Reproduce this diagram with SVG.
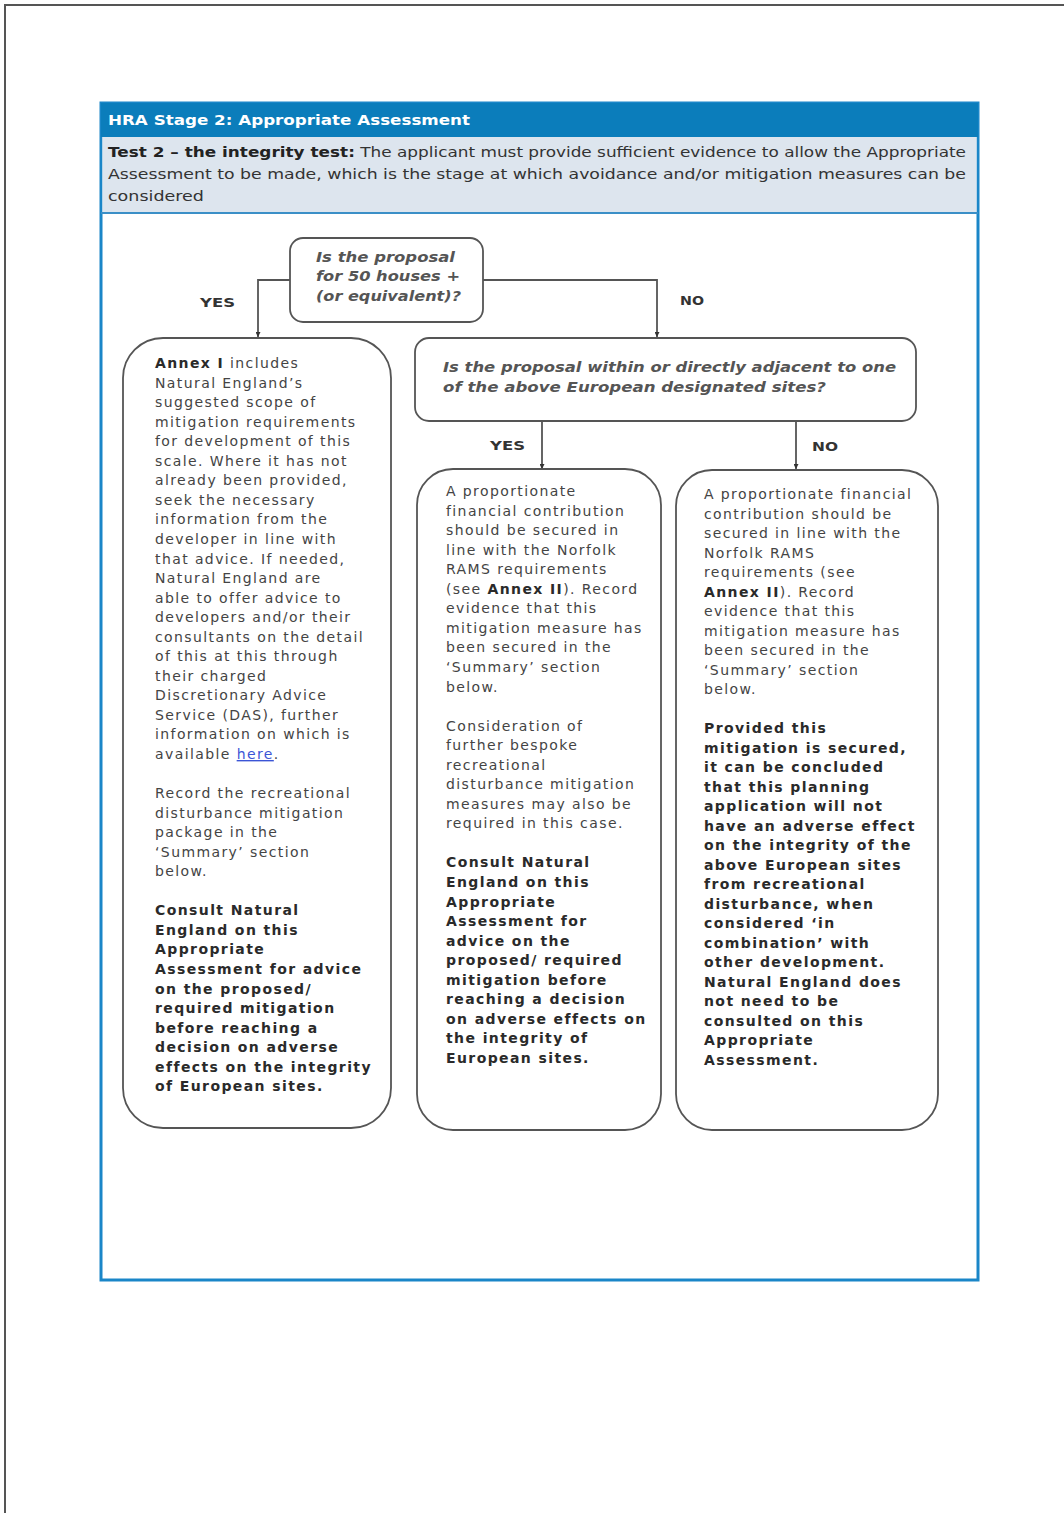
<svg xmlns="http://www.w3.org/2000/svg" width="1064" height="1513" viewBox="0 0 1064 1513">
<style>
.box{fill:#fff;stroke:#555;stroke-width:1.8}
.body{font-family:"DejaVu Sans",Verdana,sans-serif;font-size:14px;letter-spacing:1.4px;fill:#444}
.b{font-weight:bold;fill:#2a2a2a}
.q{font-family:"DejaVu Sans",Verdana,sans-serif;font-size:14px;font-style:italic;font-weight:bold;fill:#555}
.lbl{font-family:"DejaVu Sans",Verdana,sans-serif;font-size:13px;font-weight:bold;fill:#333}
.conn{fill:none;stroke:#555;stroke-width:1.8}
</style>
<defs>
<marker id="arr" viewBox="0 0 10 10" refX="10" refY="5" markerWidth="5" markerHeight="5" orient="auto" markerUnits="userSpaceOnUse">
<path d="M0,0 L10,5 L0,10 z" fill="#333"/>
</marker>
</defs>
<rect width="1064" height="1513" fill="#fff"/>
<g id="page-border">
<line x1="4" y1="5" x2="1064" y2="5" stroke="#555" stroke-width="2"/>
<line x1="5" y1="4" x2="5" y2="1513" stroke="#555" stroke-width="2"/>
</g>
<g id="frame">
<rect x="101" y="103" width="877" height="1177" fill="#fff" stroke="#1a86c8" stroke-width="3"/>
<rect x="101" y="103" width="877" height="34" fill="#0b7dbb"/>
<rect x="102.5" y="137" width="874" height="75" fill="#dde5ee"/>
<line x1="101" y1="213" x2="978" y2="213" stroke="#3b8fc7" stroke-width="2"/>
<text x="108" y="125" textLength="362" lengthAdjust="spacingAndGlyphs" font-family="DejaVu Sans,Verdana,sans-serif" font-size="14" font-weight="bold" fill="#fff">HRA Stage 2: Appropriate Assessment</text>
<text font-family="DejaVu Sans,Verdana,sans-serif" font-size="14" fill="#333">
<tspan x="108" y="157" textLength="858" lengthAdjust="spacingAndGlyphs"><tspan font-weight="bold" fill="#222">Test 2 – the integrity test:</tspan> The applicant must provide sufficient evidence to allow the Appropriate</tspan>
</text>
<text x="108" y="179" textLength="858" lengthAdjust="spacingAndGlyphs" font-family="DejaVu Sans,Verdana,sans-serif" font-size="14" fill="#333">Assessment to be made, which is the stage at which avoidance and/or mitigation measures can be</text>
<text x="108" y="201" textLength="96" lengthAdjust="spacingAndGlyphs" font-family="DejaVu Sans,Verdana,sans-serif" font-size="14" fill="#333">considered</text>
</g>
<g id="connectors">
<path class="conn" d="M290,280 H258 V337" marker-end="url(#arr)"/>
<path class="conn" d="M483,280 H657 V337" marker-end="url(#arr)"/>
<path class="conn" d="M542,421 V469" marker-end="url(#arr)"/>
<path class="conn" d="M796,421 V469" marker-end="url(#arr)"/>
<text class="lbl" x="200" y="307" textLength="35" lengthAdjust="spacingAndGlyphs">YES</text>
<text class="lbl" x="680" y="305" textLength="24" lengthAdjust="spacingAndGlyphs">NO</text>
<text class="lbl" x="490" y="450" textLength="35" lengthAdjust="spacingAndGlyphs">YES</text>
<text class="lbl" x="812" y="451" textLength="26" lengthAdjust="spacingAndGlyphs">NO</text>
</g>
<g id="q1">
<rect class="box" x="290" y="238" width="193" height="84" rx="13"/>
<text class="q"><tspan x="316" y="262" textLength="139" lengthAdjust="spacingAndGlyphs">Is the proposal</tspan><tspan x="316" y="281" textLength="144" lengthAdjust="spacingAndGlyphs">for 50 houses +</tspan><tspan x="316" y="301" textLength="145" lengthAdjust="spacingAndGlyphs">(or equivalent)?</tspan></text>
</g>
<g id="q2">
<rect class="box" x="415" y="338" width="501" height="83" rx="14"/>
<text class="q"><tspan x="443" y="372" textLength="453" lengthAdjust="spacingAndGlyphs">Is the proposal within or directly adjacent to one</tspan><tspan x="443" y="392" textLength="383" lengthAdjust="spacingAndGlyphs">of the above European designated sites?</tspan></text>
</g>
<g id="left-box">
<rect class="box" x="123" y="338" width="268" height="790" rx="40"/>
<text class="body" y="368">
<tspan x="155" dy="0"><tspan class="b">Annex I</tspan> includes</tspan>
<tspan x="155" dy="19.55">Natural England’s</tspan>
<tspan x="155" dy="19.55">suggested scope of</tspan>
<tspan x="155" dy="19.55">mitigation requirements</tspan>
<tspan x="155" dy="19.55">for development of this</tspan>
<tspan x="155" dy="19.55">scale. Where it has not</tspan>
<tspan x="155" dy="19.55">already been provided,</tspan>
<tspan x="155" dy="19.55">seek the necessary</tspan>
<tspan x="155" dy="19.55">information from the</tspan>
<tspan x="155" dy="19.55">developer in line with</tspan>
<tspan x="155" dy="19.55">that advice. If needed,</tspan>
<tspan x="155" dy="19.55">Natural England are</tspan>
<tspan x="155" dy="19.55">able to offer advice to</tspan>
<tspan x="155" dy="19.55">developers and/or their</tspan>
<tspan x="155" dy="19.55">consultants on the detail</tspan>
<tspan x="155" dy="19.55">of this at this through</tspan>
<tspan x="155" dy="19.55">their charged</tspan>
<tspan x="155" dy="19.55">Discretionary Advice</tspan>
<tspan x="155" dy="19.55">Service (DAS), further</tspan>
<tspan x="155" dy="19.55">information on which is</tspan>
<tspan x="155" dy="19.55">available <tspan fill="#3b55d6" text-decoration="underline">here</tspan>.</tspan>
<tspan x="155" dy="39.1">Record the recreational</tspan>
<tspan x="155" dy="19.55">disturbance mitigation</tspan>
<tspan x="155" dy="19.55">package in the</tspan>
<tspan x="155" dy="19.55">‘Summary’ section</tspan>
<tspan x="155" dy="19.55">below.</tspan>
<tspan class="b" x="155" dy="39.1">Consult Natural</tspan>
<tspan class="b" x="155" dy="19.55">England on this</tspan>
<tspan class="b" x="155" dy="19.55">Appropriate</tspan>
<tspan class="b" x="155" dy="19.55">Assessment for advice</tspan>
<tspan class="b" x="155" dy="19.55">on the proposed/</tspan>
<tspan class="b" x="155" dy="19.55">required mitigation</tspan>
<tspan class="b" x="155" dy="19.55">before reaching a</tspan>
<tspan class="b" x="155" dy="19.55">decision on adverse</tspan>
<tspan class="b" x="155" dy="19.55">effects on the integrity</tspan>
<tspan class="b" x="155" dy="19.55">of European sites.</tspan>
</text>
</g>
<g id="middle-box">
<rect class="box" x="417" y="469" width="244" height="661" rx="36"/>
<text class="body" y="496">
<tspan x="446" dy="0">A proportionate</tspan>
<tspan x="446" dy="19.55">financial contribution</tspan>
<tspan x="446" dy="19.55">should be secured in</tspan>
<tspan x="446" dy="19.55">line with the Norfolk</tspan>
<tspan x="446" dy="19.55">RAMS requirements</tspan>
<tspan x="446" dy="19.55">(see <tspan class="b">Annex II</tspan>). Record</tspan>
<tspan x="446" dy="19.55">evidence that this</tspan>
<tspan x="446" dy="19.55">mitigation measure has</tspan>
<tspan x="446" dy="19.55">been secured in the</tspan>
<tspan x="446" dy="19.55">‘Summary’ section</tspan>
<tspan x="446" dy="19.55">below.</tspan>
<tspan x="446" dy="39.1">Consideration of</tspan>
<tspan x="446" dy="19.55">further bespoke</tspan>
<tspan x="446" dy="19.55">recreational</tspan>
<tspan x="446" dy="19.55">disturbance mitigation</tspan>
<tspan x="446" dy="19.55">measures may also be</tspan>
<tspan x="446" dy="19.55">required in this case.</tspan>
<tspan class="b" x="446" dy="39.1">Consult Natural</tspan>
<tspan class="b" x="446" dy="19.55">England on this</tspan>
<tspan class="b" x="446" dy="19.55">Appropriate</tspan>
<tspan class="b" x="446" dy="19.55">Assessment for</tspan>
<tspan class="b" x="446" dy="19.55">advice on the</tspan>
<tspan class="b" x="446" dy="19.55">proposed/ required</tspan>
<tspan class="b" x="446" dy="19.55">mitigation before</tspan>
<tspan class="b" x="446" dy="19.55">reaching a decision</tspan>
<tspan class="b" x="446" dy="19.55">on adverse effects on</tspan>
<tspan class="b" x="446" dy="19.55">the integrity of</tspan>
<tspan class="b" x="446" dy="19.55">European sites.</tspan>
</text>
</g>
<g id="right-box">
<rect class="box" x="676" y="470" width="262" height="660" rx="36"/>
<text class="body" y="499">
<tspan x="704" dy="0">A proportionate financial</tspan>
<tspan x="704" dy="19.5">contribution should be</tspan>
<tspan x="704" dy="19.5">secured in line with the</tspan>
<tspan x="704" dy="19.5">Norfolk RAMS</tspan>
<tspan x="704" dy="19.5">requirements (see</tspan>
<tspan x="704" dy="19.5"><tspan class="b">Annex II</tspan>). Record</tspan>
<tspan x="704" dy="19.5">evidence that this</tspan>
<tspan x="704" dy="19.5">mitigation measure has</tspan>
<tspan x="704" dy="19.5">been secured in the</tspan>
<tspan x="704" dy="19.5">‘Summary’ section</tspan>
<tspan x="704" dy="19.5">below.</tspan>
<tspan class="b" x="704" dy="39">Provided this</tspan>
<tspan class="b" x="704" dy="19.5">mitigation is secured,</tspan>
<tspan class="b" x="704" dy="19.5">it can be concluded</tspan>
<tspan class="b" x="704" dy="19.5">that this planning</tspan>
<tspan class="b" x="704" dy="19.5">application will not</tspan>
<tspan class="b" x="704" dy="19.5">have an adverse effect</tspan>
<tspan class="b" x="704" dy="19.5">on the integrity of the</tspan>
<tspan class="b" x="704" dy="19.5">above European sites</tspan>
<tspan class="b" x="704" dy="19.5">from recreational</tspan>
<tspan class="b" x="704" dy="19.5">disturbance, when</tspan>
<tspan class="b" x="704" dy="19.5">considered ‘in</tspan>
<tspan class="b" x="704" dy="19.5">combination’ with</tspan>
<tspan class="b" x="704" dy="19.5">other development.</tspan>
<tspan class="b" x="704" dy="19.5">Natural England does</tspan>
<tspan class="b" x="704" dy="19.5">not need to be</tspan>
<tspan class="b" x="704" dy="19.5">consulted on this</tspan>
<tspan class="b" x="704" dy="19.5">Appropriate</tspan>
<tspan class="b" x="704" dy="19.5">Assessment.</tspan>
</text>
</g>
</svg>
